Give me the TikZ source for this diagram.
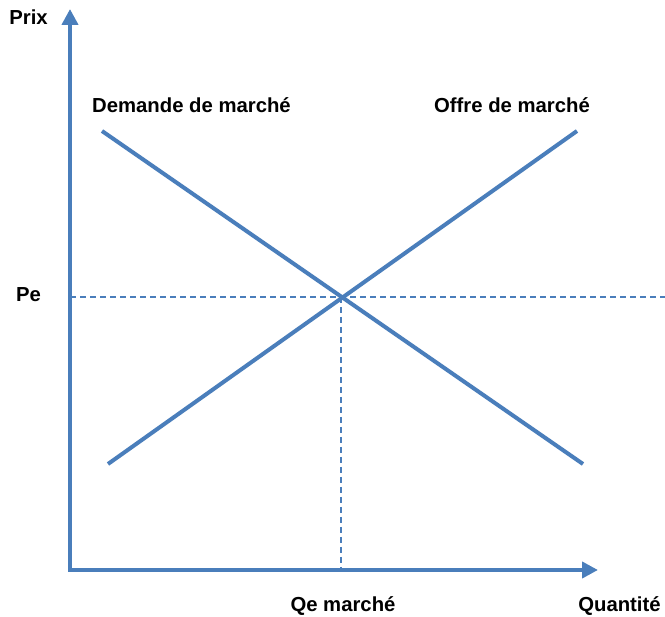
\documentclass[tikz,border=0pt]{standalone}
\usepackage{fontspec}
\setmainfont{Liberation Sans}
\usetikzlibrary{arrows.meta}
\definecolor{axblue}{RGB}{74,126,187}
\tikzset{
  curve/.style={draw=axblue, line width=4pt},
  axis/.style={draw=axblue, line width=4pt, -{Triangle[width=16pt,length=16pt]}},
  guide/.style={draw=axblue, line width=1.5pt, dash pattern=on 6pt off 4pt},
  lbl/.style={anchor=base, inner sep=0pt, font=\fontsize{20.3}{24}\selectfont\bfseries}
}
\begin{document}
\begin{tikzpicture}[x=1pt,y=-1pt]
\useasboundingbox (0,0) rectangle (665,617);
% axes
\coordinate (O) at (70,570);
\coordinate (Ytip) at (70,9);
\coordinate (Xtip) at (598,570);
\draw[axis] ([yshift=-2pt]O) -- (Ytip);
\draw[axis] ([xshift=-2pt]O) -- (Xtip);
% equilibrium guides
\coordinate (E) at (341,297);
\coordinate (Pleft) at (70,297);
\coordinate (Pright) at (665,297);
\coordinate (Qbot) at (341,570);
\draw[guide] (Pleft) -- (Pright);
\draw[guide] (E) -- (Qbot);
% curves
\coordinate (D1) at (102,131);
\coordinate (D2) at (583,464);
\coordinate (S1) at (108,464);
\coordinate (S2) at (577,131);
\draw[curve] (D1) -- (D2);
\draw[curve] (S1) -- (S2);
% labels
\node[lbl] (prix) at (28.5,25) {Prix};
\node[lbl] (dem) at (191.5,112.5) {Demande de marché};
\node[lbl] (off) at (512,112.5) {Offre de marché};
\node[lbl] (pe) at (28.5,302) {Pe};
\node[lbl] (qe) at (343,612) {Qe marché};
\node[lbl] (qte) at (619.5,612) {Quantité};
\end{tikzpicture}
\end{document}
